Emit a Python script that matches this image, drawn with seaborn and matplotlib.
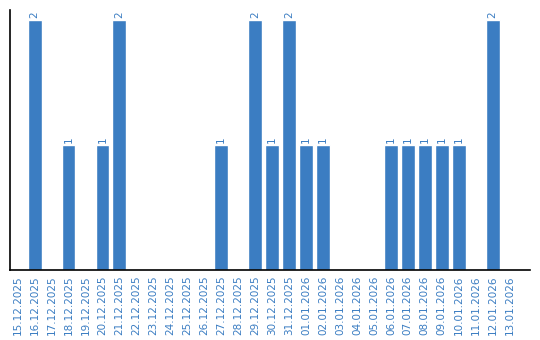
import matplotlib
matplotlib.use("Agg")
import matplotlib.pyplot as plt
import seaborn as sns
import pandas as pd

dates = ["15.12.2025", "16.12.2025", "17.12.2025", "18.12.2025", "19.12.2025",
         "20.12.2025", "21.12.2025", "22.12.2025", "23.12.2025", "24.12.2025",
         "25.12.2025", "26.12.2025", "27.12.2025", "28.12.2025", "29.12.2025",
         "30.12.2025", "31.12.2025", "01.01.2026", "02.01.2026", "03.01.2026",
         "04.01.2026", "05.01.2026", "06.01.2026", "07.01.2026", "08.01.2026",
         "09.01.2026", "10.01.2026", "11.01.2026", "12.01.2026", "13.01.2026"]
counts = [0, 2, 0, 1, 0, 1, 2, 0, 0, 0, 0, 0, 1, 0, 2,
          1, 2, 1, 1, 0, 0, 0, 1, 1, 1, 1, 1, 0, 2, 0]

df = pd.DataFrame({"date": dates, "count": counts})

sns.set_style("white")
fig = plt.figure(figsize=(5.4, 3.4), dpi=100)
ax = fig.add_axes([10/540, 70/340, 520/540, 260/340])
bar_color = "#3b7dc2"
text_color = "#3b7dc2"
sns.barplot(data=df, x="date", y="count", color=bar_color, saturation=1,
            width=0.82, ax=ax)

for i, v in enumerate(counts):
    if v > 0:
        ax.text(i, v + 0.02, str(v), rotation=90, ha="center", va="bottom",
                fontsize=7.5, color=text_color)

ax.set_xlim(-0.45, 30.2)
ax.set_ylim(0, 2.08)
ax.set_yticks([])
ax.set_xlabel("")
ax.set_ylabel("")
ax.set_xticks(range(len(dates)))
ax.set_xticklabels(dates, rotation=90, fontsize=7.5, color=text_color)
ax.tick_params(axis="x", length=0, pad=4)
for s in ["top", "right"]:
    ax.spines[s].set_visible(False)
for s in ["left", "bottom"]:
    ax.spines[s].set_color("black")
    ax.spines[s].set_linewidth(1.2)

fig.savefig("out.png", dpi=100)
